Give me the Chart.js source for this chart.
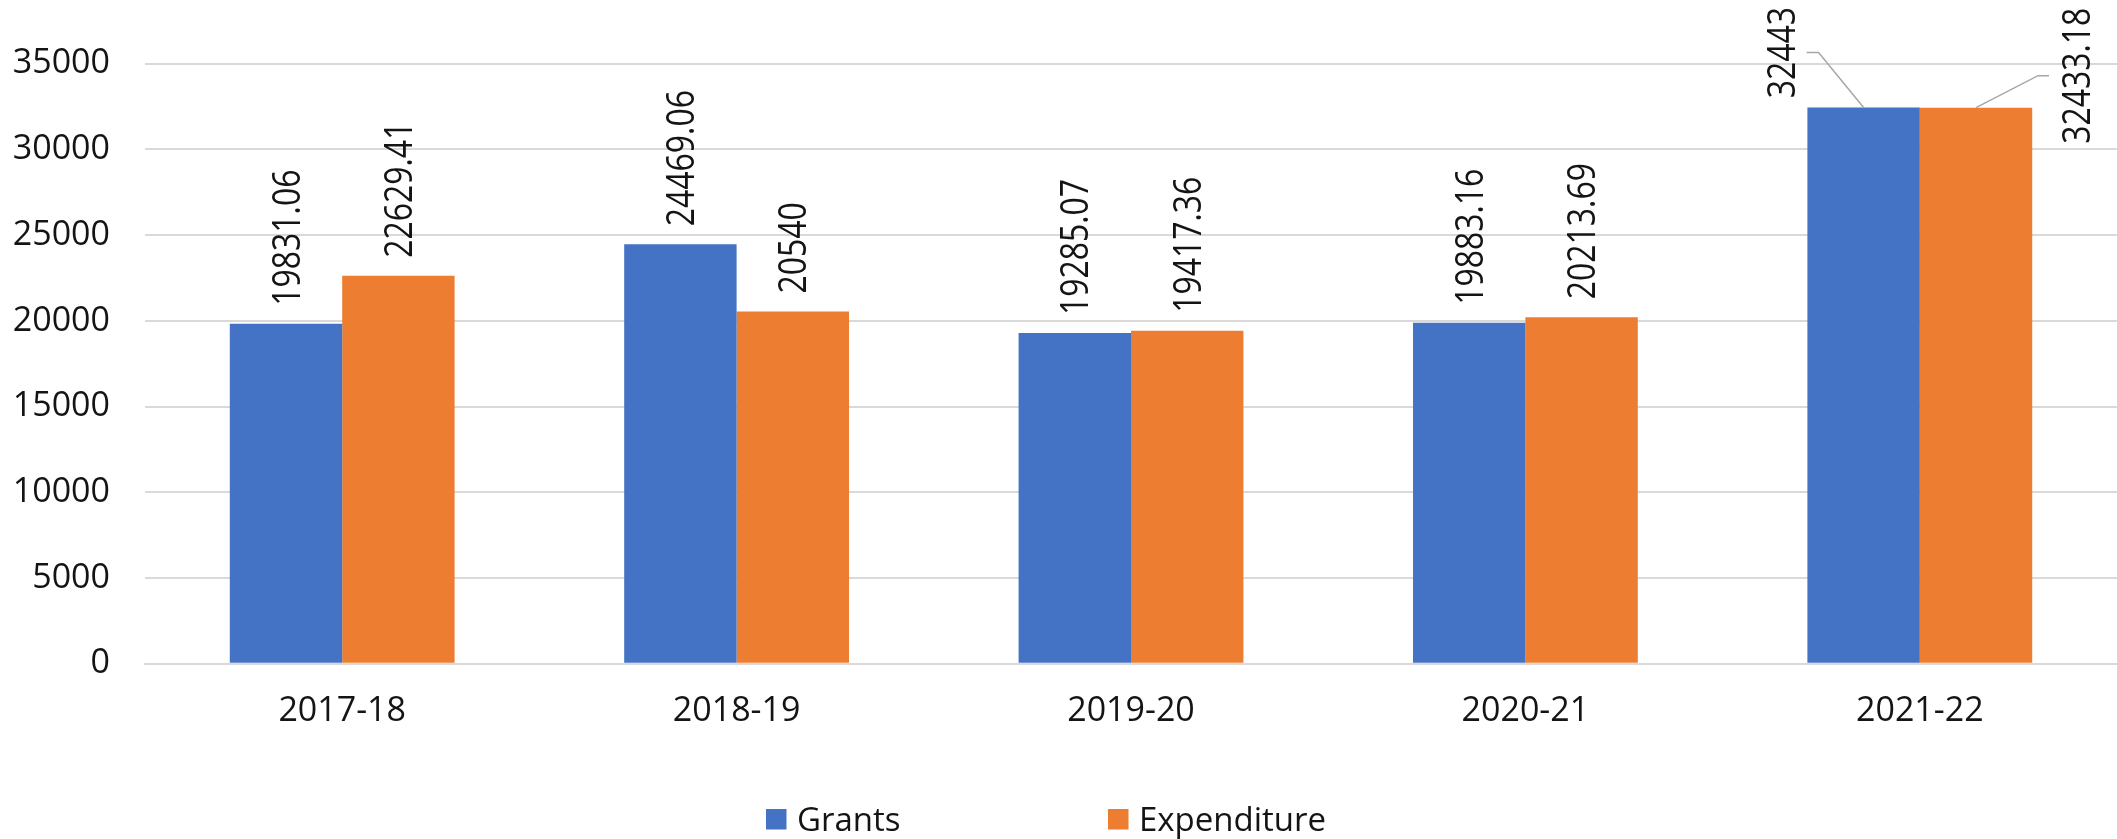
<!DOCTYPE html>
<html>
<head>
<meta charset="utf-8">
<script src="https://cdn.jsdelivr.net/npm/chart.js@4.4.1/dist/chart.umd.min.js"></script>
<style>
  html, body { margin: 0; padding: 0; background: #ffffff; }
  #wrap { width: 2117px; height: 839px; }
</style>
</head>
<body>
<div id="wrap"><canvas id="c" width="2117" height="839"></canvas></div>
<script>
const categories = ['2017-18', '2018-19', '2019-20', '2020-21', '2021-22'];
const grants = [19831.06, 24469.06, 19285.07, 19883.16, 32443];
const expenditure = [22629.41, 20540, 19417.36, 20213.69, 32433.18];
const seriesNames = ['Grants', 'Expenditure'];
const yTicks = [0, 5000, 10000, 15000, 20000, 25000, 30000, 35000];

const BLUE = '#4472C4';
const ORANGE = '#ED7D31';
const TEXT = '#141414';
const FONT = '"Open Sans", "Noto Sans", sans-serif';

const barLabels = {
  id: 'barLabels',
  afterDatasetsDraw(chart) {
    const ctx = chart.ctx;
    const s = 38;
    const last = categories.length - 1;
    chart.data.datasets.forEach((ds, di) => {
      const meta = chart.getDatasetMeta(di);
      meta.data.forEach((bar, i) => {
        const text = String(ds.data[i]);
        ctx.save();
        ctx.fillStyle = TEXT;
        ctx.font = s + 'px ' + FONT;
        ctx.textBaseline = 'alphabetic';
        if (i !== last) {
          ctx.translate(bar.x, bar.y - 18);
          ctx.rotate(-Math.PI / 2);
          ctx.scale(0.84, 1);
          ctx.textAlign = 'left';
          ctx.fillText(text, 0, 0.357 * s);
        } else {
          // callout labels with leader lines
          let lx, ly, p1, p2;
          if (di === 0) {
            lx = bar.x - 82; ly = bar.y - 55;
            p1 = [bar.x - 45, bar.y - 55]; p2 = [bar.x - 57, bar.y - 55];
          } else {
            lx = bar.x + 100; ly = bar.y - 32;
            p1 = [bar.x + 62, bar.y - 32]; p2 = [bar.x + 73, bar.y - 32];
          }
          ctx.save();
          ctx.strokeStyle = '#a6a6a6';
          ctx.lineWidth = 1.5;
          ctx.beginPath();
          ctx.moveTo(bar.x, bar.y);
          ctx.lineTo(p1[0], p1[1]);
          ctx.lineTo(p2[0], p2[1]);
          ctx.stroke();
          ctx.restore();
          ctx.translate(lx, ly);
          ctx.rotate(-Math.PI / 2);
          ctx.scale(0.84, 1);
          ctx.textAlign = 'center';
          ctx.fillText(text, 0, 0.357 * s);
        }
        ctx.restore();
      });
    });
  }
};

const customLegend = {
  id: 'customLegend',
  afterDraw(chart) {
    const ctx = chart.ctx;
    ctx.save();
    chart.data.datasets.forEach((ds, i) => {
      const x = 766 + i * 342;
      ctx.fillStyle = ds.backgroundColor;
      ctx.fillRect(x, 809, 20.5, 20.5);
      ctx.fillStyle = TEXT;
      ctx.font = '33px ' + FONT;
      ctx.textAlign = 'left';
      ctx.textBaseline = 'alphabetic';
      ctx.fillText(ds.label, x + 31, 819 + 0.357 * 33);
    });
    ctx.restore();
  }
};

new Chart(document.getElementById('c'), {
  type: 'bar',
  data: {
    labels: categories,
    datasets: [
      { label: seriesNames[0], data: grants, backgroundColor: BLUE },
      { label: seriesNames[1], data: expenditure, backgroundColor: ORANGE }
    ]
  },
  options: {
    responsive: false,
    animation: false,
    devicePixelRatio: 1,
    layout: { padding: { top: 63.7, left: 0, right: 0, bottom: 0 } },
    datasets: { bar: { categoryPercentage: 0.57, barPercentage: 1.0 } },
    plugins: {
      legend: { display: false },
      tooltip: { enabled: false },
      title: { display: false }
    },
    scales: {
      x: {
        grid: { display: false, drawTicks: false },
        border: { display: true, color: '#d9d9d9', width: 2 },
        ticks: { font: { family: FONT, size: 34 }, color: TEXT, padding: 27, maxRotation: 0 },
        afterFit(scale) { scale.height = 175.3; }
      },
      y: {
        min: 0,
        max: 35000,
        afterBuildTicks(scale) { scale.ticks = yTicks.map(v => ({ value: v })); },
        grid: { color: '#d9d9d9', lineWidth: 2, drawTicks: false },
        border: { display: false },
        ticks: {
          font: { family: FONT, size: 34 }, color: TEXT, padding: 35,
          callback: (v) => String(v)
        },
        afterFit(scale) { scale.width = 145; }
      }
    }
  },
  plugins: [barLabels, customLegend]
});
</script>
</body>
</html>
